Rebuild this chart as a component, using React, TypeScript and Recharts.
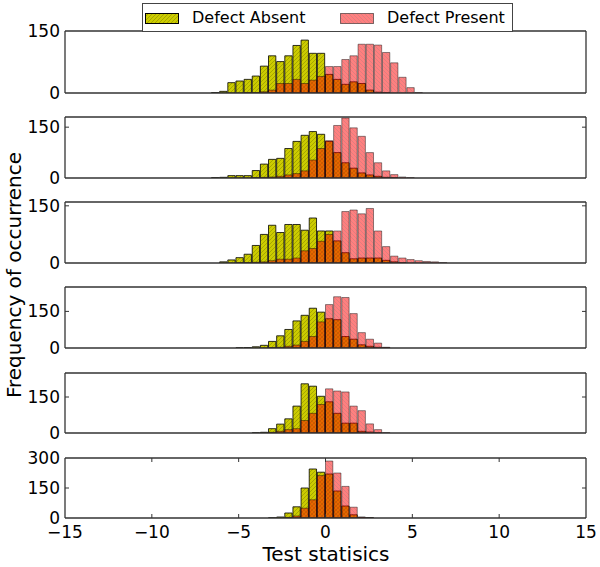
import React from 'react';
import { ComposedChart, Bar, XAxis, YAxis, ReferenceLine } from 'recharts';

// 64 bins over [-15, 15]; only the central 32 (edges -7.5 .. 7.5) hold counts
const BIN_WIDTH = 30 / 64;
const BIN_START = -7.5;

const ABSENT_1 = [0, 0, 1, 4, 25, 29, 33, 41, 65, 90, 76, 90, 115, 128, 96, 96, 45, 33, 21, 27, 23, 7, 2, 1, 0, 0, 0, 0, 0, 0, 0, 0];
const PRESENT_1 = [0, 0, 0, 0, 0, 0, 1, 1, 3, 7, 23, 23, 33, 23, 31, 40, 64, 64, 81, 90, 118, 118, 116, 98, 73, 38, 13, 1, 0, 0, 0, 0];

const ABSENT_2 = [0, 0, 1, 2, 7, 7, 7, 22, 41, 55, 58, 87, 108, 126, 137, 129, 108, 75, 45, 29, 15, 9, 5, 2, 1, 0, 0, 0, 0, 0, 0, 0];
const PRESENT_2 = [0, 0, 0, 0, 0, 0, 0, 1, 2, 3, 5, 9, 13, 21, 53, 87, 110, 155, 177, 148, 123, 75, 45, 21, 10, 3, 1, 0, 0, 0, 0, 0];

const ABSENT_3 = [0, 0, 0, 3, 8, 14, 23, 46, 75, 99, 80, 101, 101, 86, 118, 84, 84, 58, 27, 11, 13, 13, 13, 7, 3, 1, 0, 0, 0, 0, 0, 0];
const PRESENT_3 = [0, 0, 0, 0, 0, 1, 1, 2, 3, 6, 10, 10, 13, 32, 38, 57, 75, 84, 135, 139, 129, 143, 84, 43, 18, 13, 9, 6, 4, 3, 1, 0];

const ABSENT_4 = [0, 0, 0, 0, 0, 1, 2, 5, 11, 27, 50, 76, 111, 134, 163, 147, 120, 116, 47, 36, 13, 7, 3, 1, 0, 0, 0, 0, 0, 0, 0, 0];
const PRESENT_4 = [0, 0, 0, 0, 0, 0, 0, 0, 0, 1, 3, 7, 12, 27, 47, 107, 178, 210, 207, 141, 63, 36, 20, 3, 0, 0, 0, 0, 0, 0, 0, 0];

const ABSENT_5 = [0, 0, 0, 0, 0, 0, 0, 1, 3, 18, 37, 59, 112, 205, 195, 153, 130, 82, 41, 41, 7, 4, 1, 0, 0, 0, 0, 0, 0, 0, 0, 0];
const PRESENT_5 = [0, 0, 0, 0, 0, 0, 0, 0, 0, 3, 7, 14, 18, 52, 82, 119, 184, 175, 171, 112, 93, 38, 14, 2, 0, 0, 0, 0, 0, 0, 0, 0];

const ABSENT_6 = [0, 0, 0, 0, 0, 0, 0, 0, 0, 1, 5, 25, 56, 150, 245, 229, 220, 135, 60, 16, 3, 1, 0, 0, 0, 0, 0, 0, 0, 0, 0, 0];
const PRESENT_6 = [0, 0, 0, 0, 0, 0, 0, 0, 0, 0, 0, 3, 10, 49, 91, 212, 285, 225, 158, 54, 5, 1, 0, 0, 0, 0, 0, 0, 0, 0, 0, 0];

const ABSENT = [ABSENT_1, ABSENT_2, ABSENT_3, ABSENT_4, ABSENT_5, ABSENT_6];
const PRESENT = [PRESENT_1, PRESENT_2, PRESENT_3, PRESENT_4, PRESENT_5, PRESENT_6];

const Y_MAX = [150, 180, 160, 250, 250, 300];
const Y_TICKS = [[0, 150], [0, 150], [0, 150], [0, 150], [0, 150], [0, 150, 300]];
const X_TICKS = [-15, -10, -5, 0, 5, 10, 15];

// layout
const PANEL_TOP = [31, 117, 202, 287, 373, 458];
const PANEL_BOTTOM = [93, 178, 263, 348, 433, 518];
const PLOT_LEFT = 65;
const PLOT_RIGHT = 586;
const PX_PER_UNIT = (PLOT_RIGHT - PLOT_LEFT) / 30;
const BAR_PX = BIN_WIDTH * PX_PER_UNIT;
const FRAME = '#333';
const FONT = "'DejaVu Sans', sans-serif";
const OLIVE = '#cccc00';
const OLIVE_LINE = '#9c9c00';

const fmt = (v: number) => (v < 0 ? `\u2212${Math.abs(v)}` : `${v}`);

const Hatch = ({ id, base, line, up }: { id: string; base: string; line: string; up: boolean }) => (
  <pattern id={id} patternUnits="userSpaceOnUse" width={4} height={4}>
    <rect width={4} height={4} fill={base} />
    <path
      d={up ? 'M-1,1 L1,-1 M0,4 L4,0 M3,5 L5,3' : 'M-1,3 L1,5 M0,0 L4,4 M3,-1 L5,1'}
      stroke={line}
      strokeWidth={0.8}
    />
  </pattern>
);

const Panel = ({ idx }: { idx: number }) => {
  const last = idx === 5;
  const ymax = Y_MAX[idx];
  const rows = ABSENT[idx].map((a, i) => ({
    x: BIN_START + BIN_WIDTH * (i + 0.5),
    absent: a,
    present: PRESENT[idx][i],
  }));
  const top = 12;
  const axisH = last ? 34 : 1;
  const bottom = last ? 0 : 10;
  const plotH = PANEL_BOTTOM[idx] - PANEL_TOP[idx];
  const height = top + plotH + axisH + bottom;
  const tickDx = 4 / PX_PER_UNIT;
  const tickDy = (4 / plotH) * ymax;

  return (
    <div style={{ position: 'absolute', left: 0, top: PANEL_TOP[idx] - top }}>
      <ComposedChart
        width={600}
        height={height}
        data={rows}
        margin={{ top, right: 600 - PLOT_RIGHT, bottom, left: PLOT_LEFT - 50 }}
      >
        <defs>
          <Hatch id={`hA${idx}`} base={OLIVE} line={OLIVE_LINE} up />
          <Hatch id={`hP${idx}`} base="#ff0000" line="#b00000" up={false} />
        </defs>
        <XAxis
          xAxisId="a"
          type="number"
          dataKey="x"
          domain={[-15, 15]}
          ticks={X_TICKS}
          interval={0}
          allowDataOverflow
          height={axisH}
          tick={last ? { fontSize: 17, fill: '#000' } : false}
          tickFormatter={fmt}
          tickLine={false}
          tickSize={6}
          tickMargin={2}
          axisLine={{ stroke: FRAME, strokeWidth: 1.3 }}
        />
        <XAxis xAxisId="p" type="number" dataKey="x" domain={[-15, 15]} allowDataOverflow hide />
        <YAxis
          type="number"
          domain={[0, ymax]}
          ticks={Y_TICKS[idx]}
          interval={0}
          allowDataOverflow
          width={50}
          tick={{ fontSize: 17, fill: '#000' }}
          tickLine={false}
          tickSize={0}
          tickMargin={5}
          axisLine={{ stroke: FRAME, strokeWidth: 1.3 }}
        />
        <Bar
          xAxisId="a"
          dataKey="absent"
          barSize={BAR_PX}
          fill={`url(#hA${idx})`}
          stroke="#000"
          strokeWidth={0.8}
          isAnimationActive={false}
        />
        <Bar
          xAxisId="p"
          dataKey="present"
          barSize={BAR_PX}
          fill={`url(#hP${idx})`}
          fillOpacity={0.5}
          stroke="#000"
          strokeOpacity={0.55}
          strokeWidth={0.8}
          isAnimationActive={false}
        />
        <ReferenceLine xAxisId="a" x={15} stroke={FRAME} strokeWidth={1.3} />
        <ReferenceLine xAxisId="a" y={ymax} stroke={FRAME} strokeWidth={1.3} />
        {Y_TICKS[idx]
          .filter((t) => t > 0 && t < ymax)
          .map((t) => (
            <React.Fragment key={`yt${t}`}>
              <ReferenceLine xAxisId="a" segment={[{ x: -15, y: t }, { x: -15 + tickDx, y: t }]} stroke={FRAME} />
              <ReferenceLine xAxisId="a" segment={[{ x: 15 - tickDx, y: t }, { x: 15, y: t }]} stroke={FRAME} />
            </React.Fragment>
          ))}
        {last &&
          X_TICKS.filter((t) => t > -15 && t < 15).map((t) => (
            <React.Fragment key={`xt${t}`}>
              <ReferenceLine xAxisId="a" segment={[{ x: t, y: 0 }, { x: t, y: tickDy }]} stroke={FRAME} />
              <ReferenceLine xAxisId="a" segment={[{ x: t, y: ymax - tickDy }, { x: t, y: ymax }]} stroke={FRAME} />
            </React.Fragment>
          ))}
      </ComposedChart>
    </div>
  );
};

const Swatch = ({ id, base, line, up, opacity }: { id: string; base: string; line: string; up: boolean; opacity: number }) => (
  <svg width={34} height={11} style={{ position: 'absolute', top: 9 }}>
    <defs>
      <Hatch id={id} base={base} line={line} up={up} />
    </defs>
    <rect x={0.5} y={0.5} width={33} height={10} fill={`url(#${id})`} fillOpacity={opacity} stroke="#000" strokeOpacity={opacity} />
  </svg>
);

const App = () => {
  return (
    <div style={{ position: 'absolute', left: 0, top: 0, width: 600, height: 567, fontFamily: FONT, background: '#fff' }}>
      {[0, 1, 2, 3, 4, 5].map((i) => (
        <Panel key={i} idx={i} />
      ))}
      <div
        style={{
          position: 'absolute',
          left: 142,
          top: 3,
          width: 369,
          height: 27,
          border: '1px solid #444',
          background: '#fff',
          fontSize: 16,
        }}
      >
        <div style={{ position: 'absolute', left: 2 }}>
          <Swatch id="legA" base={OLIVE} line={OLIVE_LINE} up opacity={1} />
        </div>
        <div style={{ position: 'absolute', left: 49, top: 4 }}>Defect Absent</div>
        <div style={{ position: 'absolute', left: 197 }}>
          <Swatch id="legP" base="#ff0000" line="#b00000" up={false} opacity={0.5} />
        </div>
        <div style={{ position: 'absolute', left: 244, top: 4 }}>Defect Present</div>
      </div>
      <div
        style={{
          position: 'absolute',
          left: 14,
          top: 275,
          transform: 'translate(-50%, -50%) rotate(-90deg)',
          whiteSpace: 'nowrap',
          fontSize: 20,
        }}
      >
        Frequency of occurrence
      </div>
      <div
        style={{
          position: 'absolute',
          left: 326,
          top: 542,
          transform: 'translateX(-50%)',
          whiteSpace: 'nowrap',
          fontSize: 20,
        }}
      >
        Test statisics
      </div>
    </div>
  );
};

export default App;
